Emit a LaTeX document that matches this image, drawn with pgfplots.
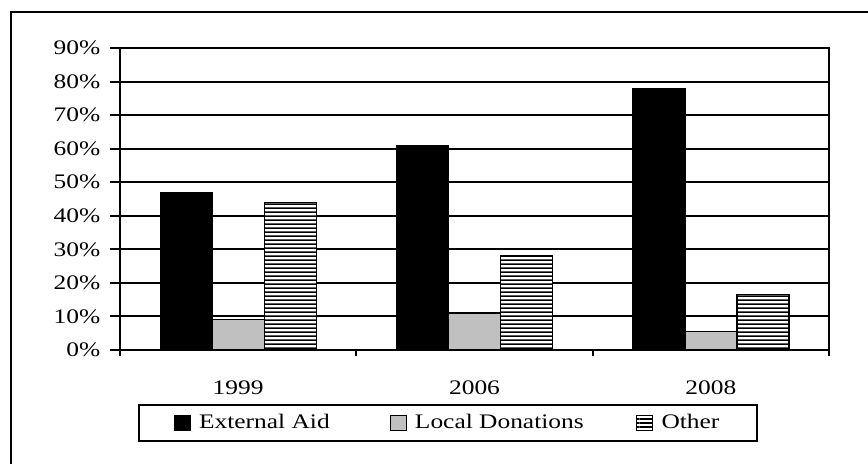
\documentclass[border=0pt]{standalone}
\usepackage{fontspec}
\setmainfont{Liberation Serif}[FakeStretch=1.23]
\usepackage{pgfplots}
\pgfplotsset{compat=1.18}
\usetikzlibrary{patterns}
\pgfdeclarepatternformonly{hstripes}{\pgfqpoint{0pt}{0pt}}{\pgfqpoint{60pt}{2.7pt}}{\pgfqpoint{60pt}{2.7pt}}{%
  \pgfpathrectangle{\pgfqpoint{0pt}{0pt}}{\pgfqpoint{60pt}{1.4pt}}\pgfusepath{fill}}
\definecolor{lgray}{RGB}{192,192,192}
\begin{document}
\fontsize{15.5}{18}\selectfont
\begin{tikzpicture}
\draw[line width=2pt] (8.25pt,-10pt) -- (8.25pt,339pt) -- (670pt,339pt);
\begin{axis}[
  at={(90pt,85.5pt)}, anchor=south west,
  scale only axis,
  width=531.75pt, height=226.5pt,
  ybar=0pt, bar width=39pt,
  xmin=-0.5, xmax=2.5,
  ymin=0, ymax=90,
  xtick={0,1,2},
  xticklabels={1999,2006,2008},
  minor xtick={-0.5,0.5,1.5,2.5},
  ytick={0,10,...,90},
  yticklabel={\pgfmathprintnumber{\tick}\%},
  /pgf/number format/assume math mode=true,
  tick align=outside,
  tick pos=left,
  major tick length=7.5pt,
  minor tick length=4.5pt,
  major x tick style={draw=none},
  tick style={black, line width=1.5pt},
  ymajorgrids,
  grid style={black, line width=1.5pt},
  axis line style={line width=1.6pt},
  xticklabel style={yshift=-10pt},
  yticklabel style={xshift=-2pt},
  legend columns=3,
  legend style={at={(0.4626,-0.2417)}, anchor=center, draw=black, line width=1.5pt,
    /tikz/every odd column/.append style={column sep=0pt},
    /tikz/every even column/.append style={column sep=0pt},
    inner xsep=26pt, inner ysep=5pt},
  legend image code/.code={\draw[#1,line width=0.8pt] (0pt,-5.6pt) rectangle (12pt,5.6pt); \path (16pt,0pt);},
]
\addplot[fill=black, draw=black, line width=1pt] coordinates {(0,47) (1,61) (2,78)};
\addlegendentry{\makebox[141pt][l]{External Aid}}
\addplot[fill=lgray, draw=black, line width=1pt] coordinates {(0,9) (1,11) (2,5.5)};
\addlegendentry{\makebox[164pt][l]{Local Donations}}
\addplot[fill=white, postaction={pattern=hstripes}, draw=black, line width=1pt] coordinates {(0,44) (1,28) (2,16.5)};
\addlegendentry{Other}
\end{axis}
\pgfresetboundingbox
\useasboundingbox (0,0) rectangle (651pt,348pt);
\end{tikzpicture}
\end{document}
